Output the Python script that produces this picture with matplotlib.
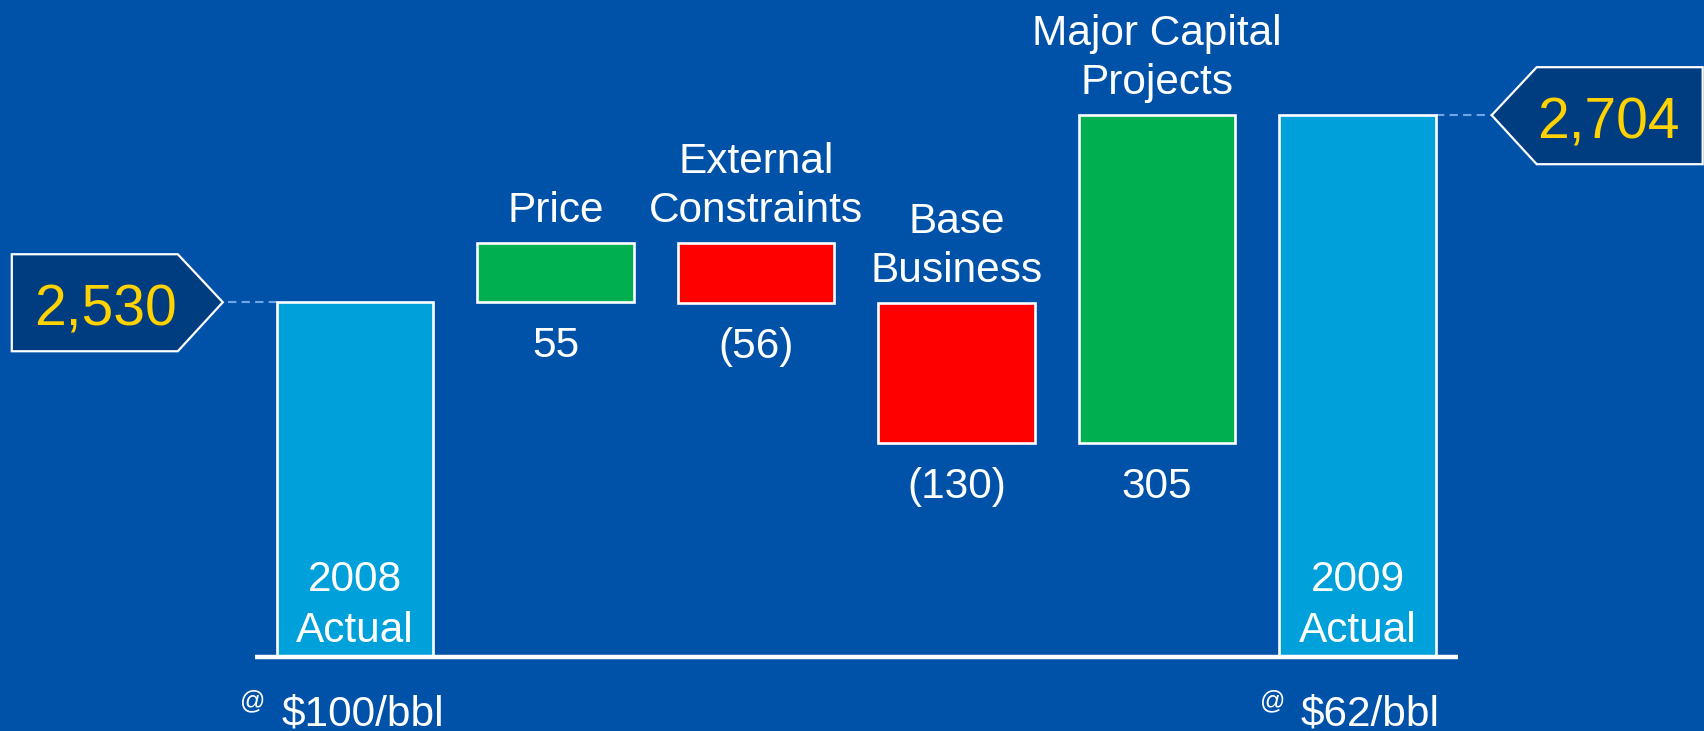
import numpy as np
import matplotlib.pyplot as plt
from matplotlib.patches import Polygon

plt.rcParams['font.family'] = ['Liberation Sans', 'DejaVu Sans']

# Waterfall data
categories = ['2008\nActual', 'Price', 'External\nConstraints', 'Base\nBusiness',
              'Major Capital\nProjects', '2009\nActual']
start_value = 2530
changes = [55, -56, -130, 305]
end_value = 2704
oil_prices = ['$100/bbl', '$62/bbl']

BG = '#0052A9'
TOTAL_COLOR = '#00A0DA'
UP_COLOR = '#00B050'
DOWN_COLOR = '#FF0000'
CALLOUT_FILL = '#003C80'
NUMBER_COLOR = '#FFD200'
FLOOR = 2200   # the value axis is cut here
BAR_W = 0.78


def fmt_change(v):
    return f'{v}' if v >= 0 else f'({-v})'


def main():
    fig = plt.figure(figsize=(17.04, 7.31), dpi=100, facecolor=BG)
    ax = fig.add_axes([0, 0, 1, 1])
    ax.set_facecolor(BG)
    ax.axis('off')
    ax.set_xlim(-355 / 200.5, (1704 - 355) / 200.5)
    ax.set_ylim(FLOOR - 74 / 1.075, FLOOR + 657 / 1.075)

    x = np.arange(len(categories))
    edge = dict(edgecolor='white', linewidth=1.9)

    # totals
    ax.bar([x[0], x[-1]], [start_value - FLOOR, end_value - FLOOR], bottom=FLOOR,
           width=BAR_W, color=TOTAL_COLOR, **edge, zorder=3)

    # changes
    running = start_value
    for i, d in enumerate(changes, start=1):
        lo = min(running, running + d)
        hi = max(running, running + d)
        ax.bar(x[i], abs(d), bottom=lo, width=BAR_W,
               color=UP_COLOR if d > 0 else DOWN_COLOR, **edge, zorder=3)
        ax.annotate(categories[i], (x[i], hi), xytext=(0, 12), textcoords='offset pixels',
                    ha='center', va='bottom', color='white', fontsize=30.5,
                    linespacing=1.3)
        ax.annotate(fmt_change(d), (x[i], lo), xytext=(0, -24), textcoords='offset pixels',
                    ha='center', va='top', color='white', fontsize=30.5)
        running += d

    # labels inside total bars and price notes below
    for xi in [x[0], x[-1]]:
        ax.annotate(categories[xi], (xi, FLOOR), xytext=(0, 6), textcoords='offset pixels',
                    ha='center', va='bottom', color='white', fontsize=30.5,
                    linespacing=1.35)

    ax.annotate(oil_prices[0], (x[0], FLOOR), xytext=(-73, -68), textcoords='offset pixels',
                ha='left', va='baseline', color='white', fontsize=30.5)
    ax.annotate('@', (x[0], FLOOR), xytext=(-90, -51), textcoords='offset pixels',
                ha='right', va='baseline', color='white', fontsize=18)
    ax.annotate(oil_prices[1], (x[-1], FLOOR), xytext=(-57, -68), textcoords='offset pixels',
                ha='left', va='baseline', color='white', fontsize=30.5)
    ax.annotate('@', (x[-1], FLOOR), xytext=(-72, -51), textcoords='offset pixels',
                ha='right', va='baseline', color='white', fontsize=18)

    # floor line
    ax.plot([x[0] - 0.5, x[-1] + 0.5], [FLOOR, FLOOR], color='white', lw=3.2, zorder=4,
            solid_capstyle='butt')

    # callout tags for the two totals; side is the direction the tag body extends
    to_data = ax.transData.inverted()
    tags = [
        (x[0] - BAR_W / 2, start_value, -54, -1),
        (x[-1] + BAR_W / 2, end_value, 56, 1),
    ]
    for bx, val, gap, side in tags:
        ex, ey = ax.transData.transform((bx, val))
        px = ex + gap
        pts = np.array([
            (px, ey),
            (px + side * 45, ey + 48),
            (px + side * 211, ey + 48),
            (px + side * 211, ey - 49),
            (px + side * 45, ey - 49),
        ])
        poly = Polygon(to_data.transform(pts), closed=True, facecolor=CALLOUT_FILL,
                       edgecolor='white', linewidth=1.6, zorder=5)
        ax.add_patch(poly)
        line = to_data.transform([(ex, ey), (px, ey)])
        ax.plot(line[:, 0], line[:, 1], color='#6FA6E6', lw=1.5, ls=(0, (4, 2.5)), zorder=2)
        tx, ty = to_data.transform([(px + side * 117, ey - 23)])[0]
        ax.text(tx, ty, f'{val:,}', ha='center', va='baseline', color=NUMBER_COLOR,
                fontsize=41, zorder=6)

    fig.savefig('out.png', dpi=100, facecolor=BG)


if __name__ == '__main__':
    main()
